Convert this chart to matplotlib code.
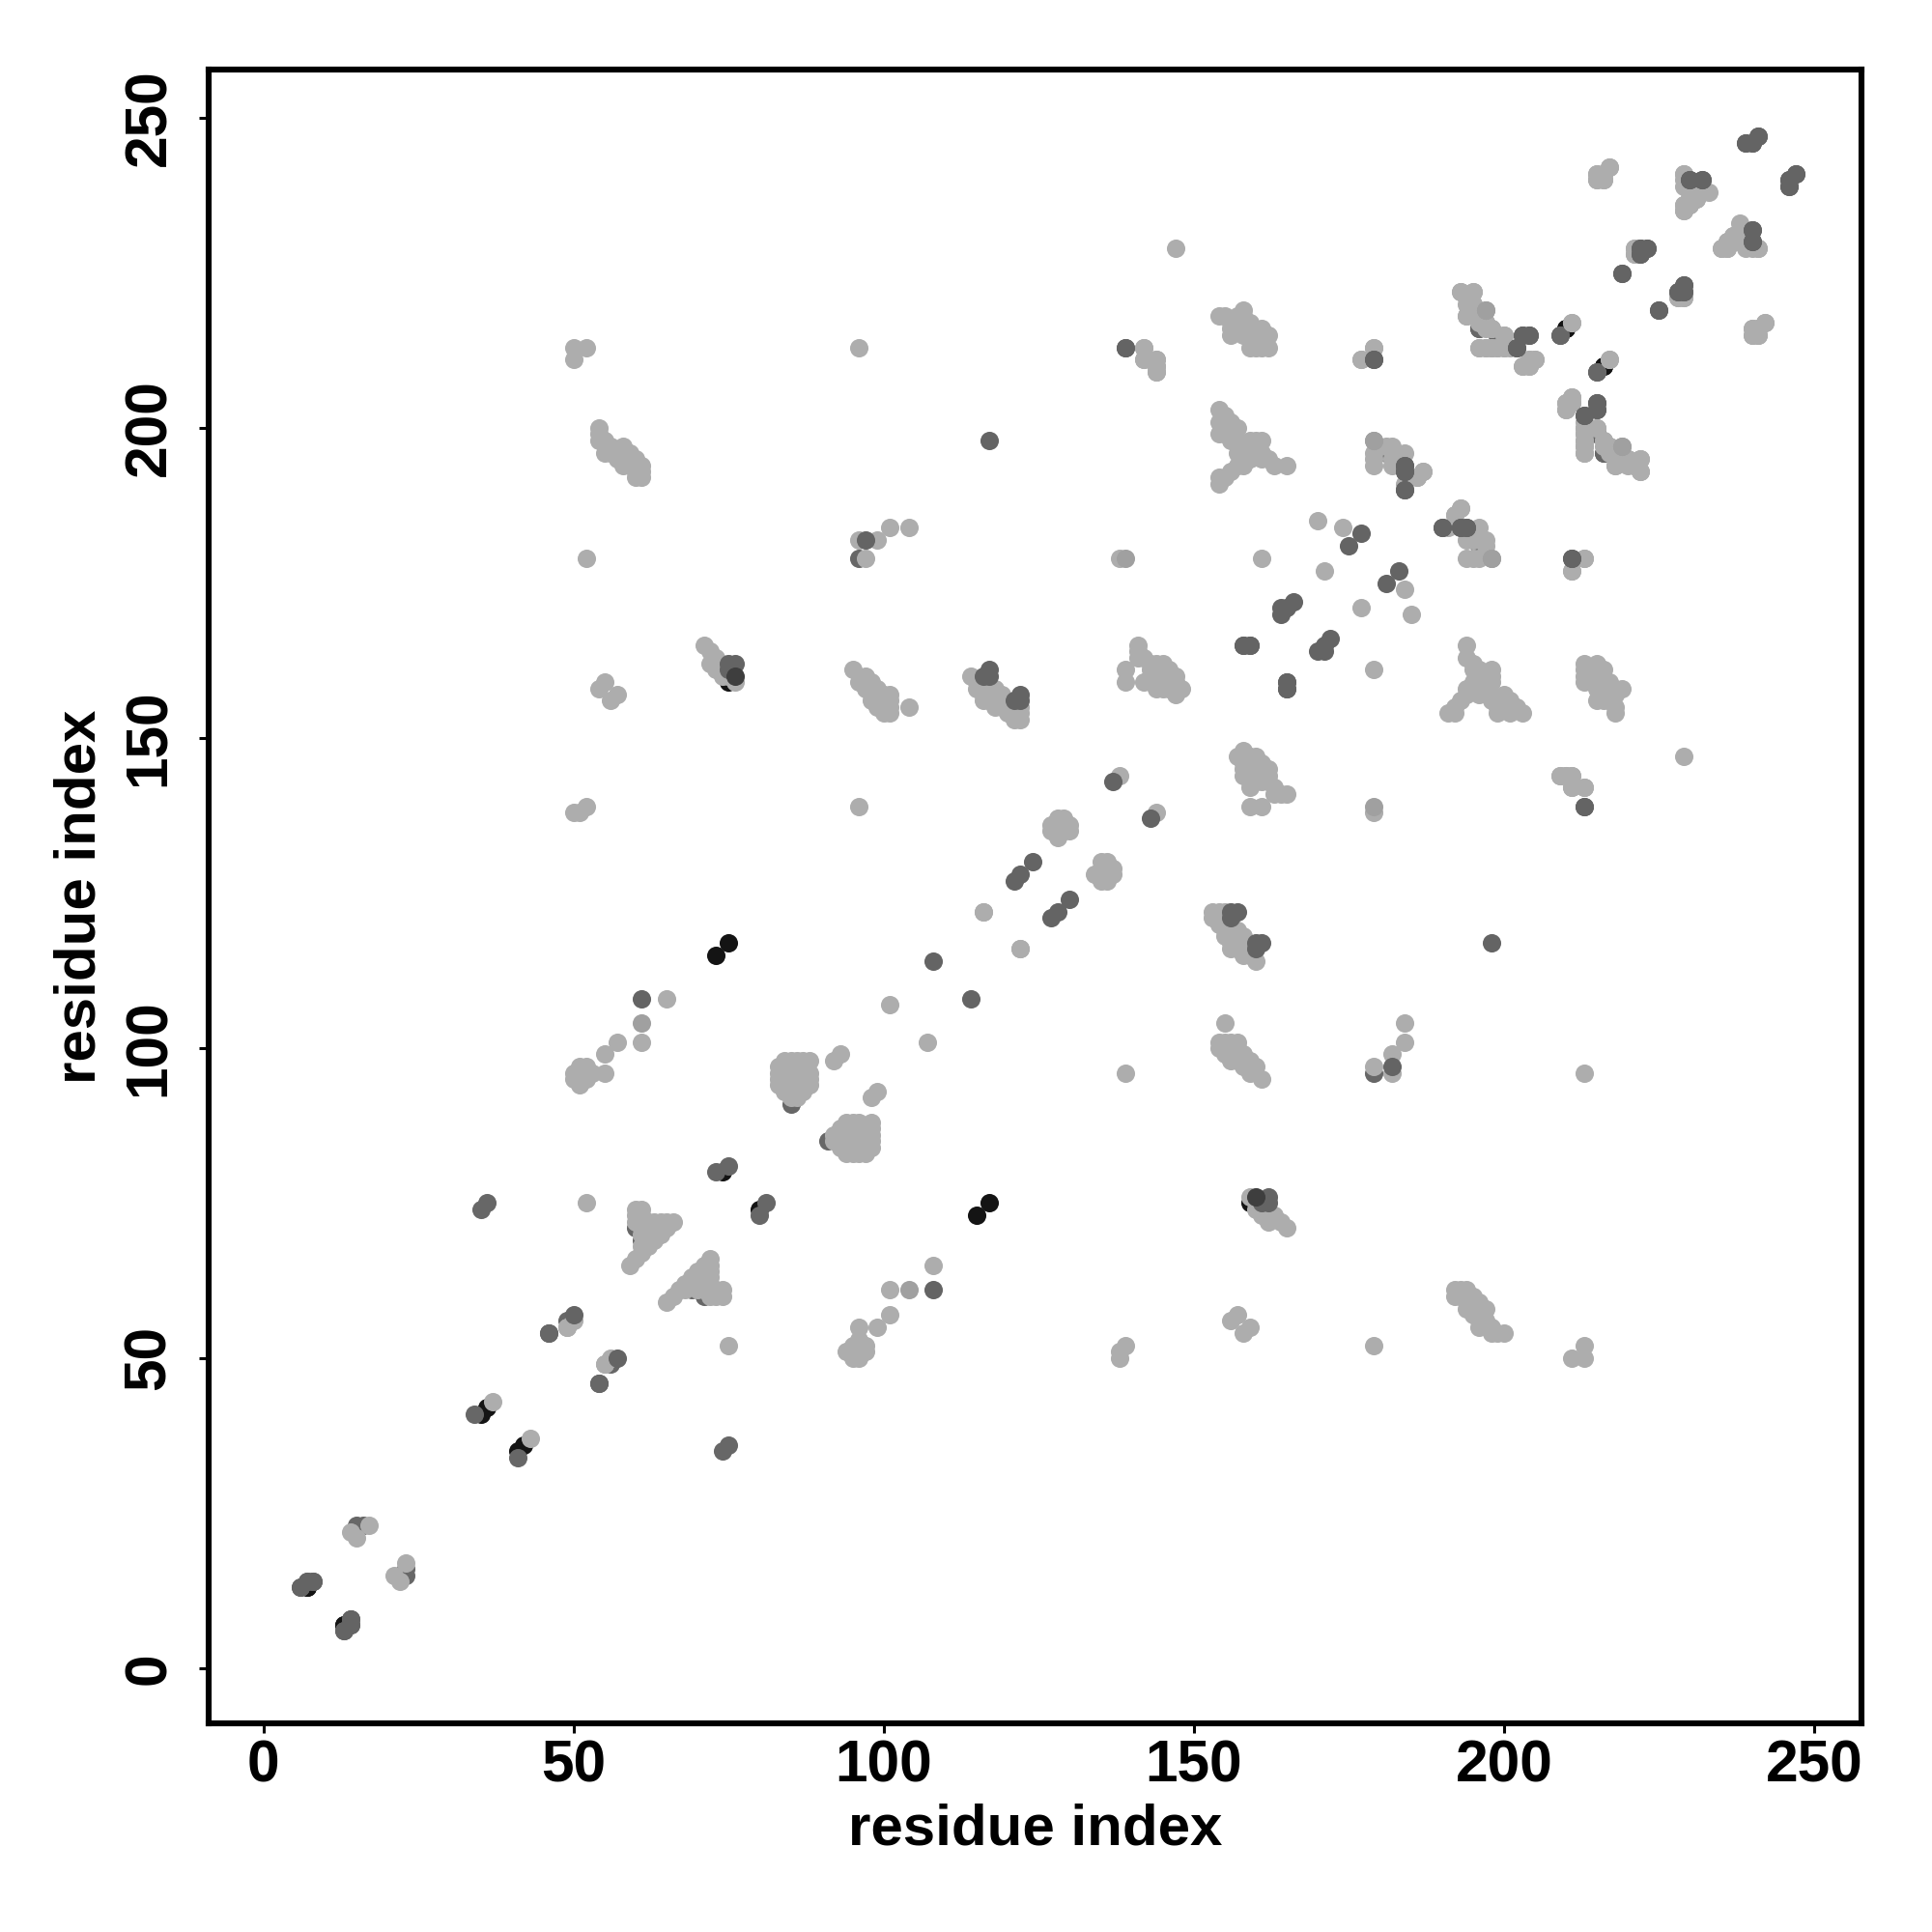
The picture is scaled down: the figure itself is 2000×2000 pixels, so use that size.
import numpy as np
import matplotlib
matplotlib.use("Agg")
import matplotlib.pyplot as plt

plt.rcParams['font.family'] = ['Liberation Sans', 'DejaVu Sans']

# contact pairs (i, j) with i < j, map is symmetric so each pair is drawn twice

# drawn first
black_pairs = [(7,13),(35,41),(36,42),(73,115),(75,117),(74,80),(210,216),(216,210),
               (75,159),(13,7)]

under_pairs = [(6,13),(34,41),(35,74),(36,75),(46,54),(49,56),(54,46),(60,71),(61,69),(85,91),(51,95),
               (73,80),(75,81),(96,179),(196,216),(215,199),(216,196),(181,196),(182,196),(209,215),
               (215,209),(15,23),(16,23),(199,215)]

light_pairs = [
    (14,22),(15,21),(17,23),(37,43),(49,55),(50,56),(55,49),
    (50,95),(50,96),(51,94),(51,96),(51,97),(52,95),(52,96),(52,97),(53,96),(55,96),(55,99),(57,101),
    (61,101),(65,108),(52,75),(52,179),(50,138),(51,138),(52,139),(50,213),(50,211),(52,213),
    (54,200),(54,199),(54,198),(55,198),(55,196),(56,197),(56,196),(57,195),(58,194),(58,197),(59,196),
    (59,194),(60,195),(60,194),(60,193),(60,192),(61,194),(61,193),(61,192),
    (54,158),(55,159),(56,156),(57,157),
    (71,165),(72,164),(73,163),(72,162),(73,161),(74,160),(75,160),(76,159),(74,162),(74,161),
    # helix blob
    (59,65),(60,66),(61,67),(62,68),(63,69),(64,70),(65,71),(66,72),(61,68),(62,69),(63,70),(64,71),
    (65,72),(62,70),(63,71),(64,72),(61,70),(61,71),(62,71),(62,72),(63,72),(60,72),
    (60,73),(60,74),(61,72),(61,73),(61,74),
    # 83-98 blob
    (83,94),(83,95),(83,96),(83,97),(84,93),(84,94),(84,95),(84,96),(84,97),(84,98),
    (85,92),(85,93),(85,94),(85,95),(85,96),(85,97),(85,98),(86,92),(86,93),(86,94),(86,95),(86,96),
    (86,97),(86,98),(87,93),(87,94),(87,95),(87,96),(87,98),(87,97),(88,94),(88,95),
    (88,96),(88,98),(92,98),(93,99),
    (96,139),(96,213),(97,179),(96,182),(99,182),(101,184),(104,184),
    (95,161),(97,160),(96,159),(98,159),(97,158),(98,157),(99,156),(100,157),(100,156),(100,155),
    (101,154),(100,154),(101,155),(101,156),(101,157),(99,155),(98,156),(99,158),(99,157),(104,155),
    (114,160),(115,159),(115,158),(116,157),(117,156),(118,155),(122,154),(121,154),(122,155),(121,153),
    (122,153),(120,154),(119,155),(118,158),(119,157),(120,156),(117,157),(116,156),(118,156),(119,156),
    (120,155),(116,158),(117,158),(118,157),
    (101,107),(116,122),(122,116),(138,144),(127,135),(128,134),(128,135),(128,136),(128,137),(129,135),
    (129,136),(129,137),(130,136),(127,136),(130,135),
    (138,179),(142,213),(142,211),(144,211),(144,210),(144,209),
    (139,159),(139,161),(141,165),(141,164),(141,163),(142,159),(142,163),(143,162),(143,160),(143,161),
    (145,162),(144,160),(145,158),(147,160),(148,158),(147,157),(146,159),(144,158),(144,162),(145,160),
    (146,161),(147,159),(146,158),
    (154,218),(155,218),(158,219),(156,217),(159,217),(161,216),(162,215),(162,213),(159,213),(161,213),
    (160,213),(157,216),(158,217),(158,215),(160,215),(159,216),(160,214),(161,214),(156,215),(157,218),
    (158,218),(156,216),(161,215),
    (177,211),(179,213),(147,229),
    (154,203),(154,199),(154,201),(155,202),(156,201),(157,200),(159,197),(158,197),(160,198),(161,198),
    (154,191),(154,192),(156,193),(157,194),(158,194),(159,196),(160,197),(162,195),(163,194),(165,194),
    (156,199),(157,198),(155,200),(156,200),(158,196),(158,195),(159,195),(160,196),(161,196),(161,195),
    (155,192),(157,196),(155,199),(156,198),(159,198),
    (161,179),(170,185),(174,184),(171,177),
    (179,196),(179,195),(179,194),(181,197),(182,197),(182,194),(182,195),(184,196),(184,191),(186,192),
    (187,193),(192,186),(193,187),
    (193,222),(195,222),(194,218),(194,220),(194,221),(195,220),(196,219),(197,217),(198,216),(200,215),
    (196,213),(197,213),(198,213),(199,213),(200,213),(203,210),(204,210),(205,211),(204,211),(201,213),
    (211,217),(217,211),(210,203),(210,204),(211,205),(211,204),(213,200),(213,196),(213,198),(213,199),
    (213,197),(215,200),(216,198),(217,197),(218,194),(218,196),(222,195),(222,193),(220,195),(221,194),
    (217,196),(219,195),(216,197),
    (229,241),(229,240),(229,235),(229,236),(231,238),(232,239),(231,237),(230,236),(233,238),(230,237),
    (232,238),(230,238),
    (215,241),(215,240),(216,240),(217,242),(216,241),
    (241,229),(239,229),(235,229),(236,230),(237,231),(238,232),(236,229),(237,230),(238,231),(239,232),
    (238,230),(239,231),
    (221,229),(221,228),(228,221),(229,221),(240,215),(241,215),(240,216),(241,216),(242,217),
    (213,142),(211,142),(209,144),(211,144),(210,144),(211,177),(213,179),
]

# slightly darker light grey
mid_pairs = [(61,104),(139,179),(179,198),(197,219),(198,179),(219,197)]

# drawn on top of the light points
over_pairs = [
    (7,14),(8,14),(13,6),(14,8),(14,7),(50,57),(61,108),(75,162),(76,162),(75,161),
    (97,182),(116,160),(117,161),(117,160),(117,198),(121,156),(122,157),(122,156),
    (108,114),(121,127),(122,128),(124,130),(137,143),(139,213),(158,165),(159,165),(165,158),(165,159),
    (164,170),(164,171),(165,171),(166,172),(175,181),(177,183),(179,211),
    (184,190),(184,193),(184,194),(190,184),(193,184),(194,184),(211,179),(213,139),(202,213),(203,215),
    (204,215),(213,202),(215,204),(215,203),(219,225),(222,229),(223,229),(222,228),(225,219),
    (228,222),(229,223),(229,222),(230,240),(232,240),(239,246),(240,246),(241,247),(246,239),(246,240),
    (247,241),(240,232),(240,230),
]

dark_pairs = [(76,160)]

ticks = [0, 50, 100, 150, 200, 250]


def draw(pairs, colour):
    i = np.array([p[0] for p in pairs])
    j = np.array([p[1] for p in pairs])
    ax.scatter(np.r_[i, j], np.r_[j, i], s=47, c=colour, linewidths=0, clip_on=True)


fig = plt.figure(figsize=(10, 10), dpi=200)
ax = fig.add_axes([216/2000, 1 - 1784/2000, 1711/2000, 1712/2000])

draw(black_pairs, '#141414')
draw(under_pairs, '#676767')
draw(light_pairs, '#ADADAD')
draw(mid_pairs, '#A0A0A0')
draw(over_pairs, '#646464')
draw(dark_pairs, '#3E3E3E')

ax.set_xlim(-8.85, 257.65)
ax.set_ylim(-8.9, 257.8)
ax.set_xticks(ticks)
ax.set_yticks(ticks)
ax.tick_params(length=3.5, width=1.1, labelsize=21.8)
ax.tick_params(axis='x', pad=2.5)
ax.tick_params(axis='y', pad=8)
for lab in ax.get_xticklabels() + ax.get_yticklabels():
    lab.set_fontweight('bold')
for lab in ax.get_yticklabels():
    lab.set_rotation(90)
    lab.set_va('center')
for s in ax.spines.values():
    s.set_linewidth(2.2)

ax.set_xlabel('residue index', fontsize=21.6, fontweight='bold', labelpad=3)
ax.set_ylabel('residue index', fontsize=21.6, fontweight='bold', labelpad=6)

fig.savefig('out.png', dpi=200)
